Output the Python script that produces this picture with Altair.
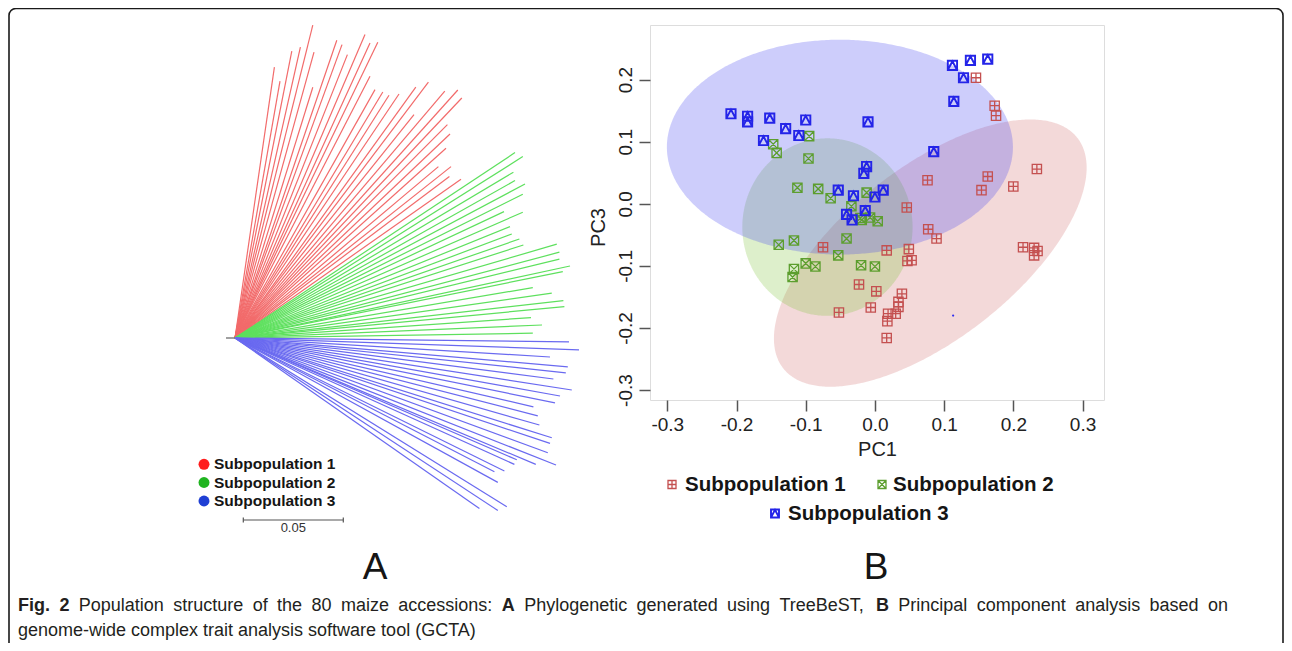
import altair as alt
import numpy as np
import pandas as pd

# ------------------------------------------------------------------ data
groups = ["Subpopulation 1", "Subpopulation 2", "Subpopulation 3"]

# Panel A: star-shaped tree, leaf tip coordinates (tree distance units, root at 0,0)
tip1_x = [0.0389, 0.0197, 0.0225, 0.0284, 0.0327, 0.0395, 0.0389, 0.0509, 0.0535, 0.0562,
          0.0650, 0.0675, 0.0714, 0.0675, 0.0700, 0.0739, 0.0770, 0.0820, 0.0904, 0.0967,
          0.0895, 0.1049, 0.1114, 0.1134, 0.1062, 0.1075, 0.1055, 0.1017, 0.1080, 0.1072, 0.1130]
tip1_y = [0.1564, 0.1354, 0.1284, 0.1434, 0.1454, 0.1429, 0.1254, 0.1489, 0.1467, 0.1417,
          0.1517, 0.1475, 0.1479, 0.1309, 0.1242, 0.1230, 0.1214, 0.1220, 0.1254, 0.1279,
          0.1117, 0.1234, 0.1240, 0.1200, 0.1067, 0.1020, 0.0949, 0.0857, 0.0857, 0.0807, 0.0794]
tip2_x = [0.1400, 0.1439, 0.1392, 0.1400, 0.1450, 0.1439, 0.1345, 0.1439, 0.1375, 0.1384,
          0.1422, 0.1442, 0.1609, 0.1622, 0.1622, 0.1675, 0.1639, 0.1489, 0.1584, 0.1642,
          0.1647, 0.1480, 0.1535, 0.1489]
tip2_y = [0.0927, 0.0907, 0.0829, 0.0787, 0.0770, 0.0719, 0.0632, 0.0629, 0.0557, 0.0520,
          0.0495, 0.0465, 0.0469, 0.0429, 0.0394, 0.0360, 0.0332, 0.0252, 0.0224, 0.0187,
          0.0157, 0.0102, 0.0065, 0.0024]
tip3_x = [0.1670, 0.1720, 0.1575, 0.1664, 0.1654, 0.1592, 0.1684, 0.1625, 0.1600, 0.1492,
          0.1514, 0.1522, 0.1584, 0.1575, 0.1564, 0.1605, 0.1504, 0.1409, 0.1397, 0.1347,
          0.1297, 0.1314, 0.1222, 0.1359, 0.1314]
tip3_y = [-0.0019, -0.0059, -0.0095, -0.0144, -0.0174, -0.0205, -0.0260, -0.0290, -0.0324, -0.0344,
          -0.0389, -0.0435, -0.0499, -0.0527, -0.0574, -0.0635, -0.0632, -0.0609, -0.0632, -0.0665,
          -0.0669, -0.0722, -0.0852, -0.0844, -0.0862]
root_edge = 0.0045
scale_bar_length = 0.05
scale_bar_label = "0.05"

# Panel B: PCA (PC1 vs PC3)
pc1_g1 = [0.146, 0.173, 0.175, 0.234, 0.163, 0.200, 0.154, 0.076, 0.046, 0.077, 0.089, -0.075,
          0.017, 0.049, 0.047, 0.053, 0.214, 0.230, 0.235, 0.230, -0.023, 0.002, 0.039, 0.034,
          0.034, -0.006, -0.052, 0.019, 0.030, 0.018, 0.017]
pc3_g1 = [0.203, 0.158, 0.142, 0.056, 0.044, 0.028, 0.022, 0.038, -0.006, -0.041, -0.056, -0.070,
          -0.075, -0.073, -0.092, -0.091, -0.070, -0.071, -0.076, -0.083, -0.130, -0.141, -0.145, -0.158,
          -0.166, -0.167, -0.175, -0.177, -0.177, -0.189, -0.216]
pc1_g2 = [-0.095, -0.147, -0.142, -0.096, -0.112, -0.082, -0.064, -0.012, -0.034, -0.021, -0.019,
          -0.007, 0.004, -0.041, -0.117, -0.139, -0.053, -0.100, -0.086, -0.020, 0.000, -0.117, -0.119]
pc3_g2 = [0.109, 0.096, 0.082, 0.073, 0.026, 0.024, 0.009, 0.018, -0.004, -0.023, -0.026,
          -0.022, -0.028, -0.056, -0.059, -0.066, -0.083, -0.096, -0.101, -0.099, -0.101, -0.105, -0.118]
pc1_g3 = [-0.208, -0.184, -0.184, -0.152, -0.100, -0.129, -0.110, -0.161, -0.010, 0.112, 0.138,
          0.163, 0.128, 0.114, 0.085, -0.012, -0.016, -0.053, -0.031, 0.012, 0.000, -0.014, -0.041, -0.033]
pc3_g3 = [0.145, 0.141, 0.132, 0.138, 0.135, 0.121, 0.110, 0.102, 0.132, 0.223, 0.231,
          0.233, 0.203, 0.165, 0.084, 0.060, 0.049, 0.022, 0.013, 0.022, 0.011, -0.011, -0.017, -0.026]
stray_pc1 = [0.113]
stray_pc3 = [-0.180]

# confidence ellipses: centre, major-axis vector, minor-axis vector (data units)
ell_cx = [0.080, -0.0686, -0.0506]
ell_cy = [-0.0794, -0.0375, 0.0913]
ell_ux = [0.2125, 0.123, 0.250]
ell_uy = [0.1856, 0.0, 0.0]
ell_vx = [-0.0767, 0.0, 0.0]
ell_vy = [0.109, 0.143, 0.173]

pc1_ticks = [-0.3, -0.2, -0.1, 0.0, 0.1, 0.2, 0.3]
pc3_ticks = [-0.3, -0.2, -0.1, 0.0, 0.1, 0.2]

caption_parts = ["Fig. 2", "Population structure of the 80 maize accessions:", "A",
                 "Phylogenetic generated using TreeBeST,", "B",
                 "Principal component analysis based on",
                 "genome-wide complex trait analysis software tool (GCTA)"]
panel_letters = ["A", "B"]

# ------------------------------------------------------------------ styles / layout
W, H = 454, 375             # plot area of panel B
OX, OY = 650, 25            # page position of panel B plot area
def vx(px): return px - OX
def vy(py): return py - OY

tree_colors = ["#f26b6b", "#5ee05e", "#6a6af0"]
legA_colors = ["#ff1c1c", "#20b420", "#1f3fd4"]
pt_colors = ["#c45050", "#5c9e2e", "#2424e8"]
pt_stroke = [1.3, 1.3, 1.9]
ell_fill = ["#c85050", "#7cc236", "#4646f0"]
ell_op = [0.22, 0.26, 0.27]
shapes = ["M-1,-1L1,-1L1,1L-1,1Z M0,-1L0,1 M-1,0L1,0",
          "M-1,-1L1,-1L1,1L-1,1Z M-1,-1L1,1 M-1,1L1,-1",
          "M-1,-1L1,-1L1,1L-1,1Z M-1,1L0,-0.9L1,1"]
FONT = "Liberation Sans, Arial, sans-serif"
CAP_SIZE = 18

def sx():
    return alt.Scale(domain=[-0.325, 0.331], nice=False, zero=False)
def sy():
    return alt.Scale(domain=[-0.316, 0.288], nice=False, zero=False)
def tsx():
    return alt.Scale(domain=[0, 0.2], range=[vx(235), vx(635)], nice=False, zero=False)
def tsy():
    return alt.Scale(domain=[-0.1, 0.2], range=[vy(538), vy(-62)], nice=False, zero=False)

one = pd.DataFrame({"k": [0]})
layers = []

# outer rounded frame
layers.append(alt.Chart(one).mark_rect(fillOpacity=0, stroke="#1a1a1a", strokeWidth=1.6,
                                       cornerRadius=7).encode(
    x=alt.value(vx(9)), x2=alt.value(vx(1283)), y=alt.value(vy(8.5)), y2=alt.value(vy(700))))

# ---- Panel A tree
tips = [(tip1_x, tip1_y), (tip2_x, tip2_y), (tip3_x, tip3_y)]
tree_df = pd.concat([pd.DataFrame({"group": g, "tx": tx, "ty": ty, "rx": 0.0, "ry": 0.0})
                     for g, (tx, ty) in zip(groups, tips)], ignore_index=True)
layers.append(alt.Chart(tree_df).mark_rule(strokeWidth=1.2).encode(
    x=alt.X("rx:Q", scale=tsx(), axis=None), y=alt.Y("ry:Q", scale=tsy(), axis=None),
    x2="tx:Q", y2="ty:Q",
    color=alt.Color("group:N", scale=alt.Scale(domain=groups, range=tree_colors), legend=None)))
stub_df = pd.DataFrame({"a": [-root_edge], "b": [0.0], "y": [0.0]})
layers.append(alt.Chart(stub_df).mark_rule(color="#777777", strokeWidth=1.4).encode(
    x=alt.X("a:Q", scale=tsx(), axis=None), x2="b:Q", y=alt.Y("y:Q", scale=tsy(), axis=None)))

# scale bar
bx0, by = 0.00415, -0.091
bar_df = pd.DataFrame({"x0": [bx0], "x1": [bx0 + scale_bar_length], "y": [by],
                       "xm": [bx0 + scale_bar_length / 2], "t": [scale_bar_label]})
layers.append(alt.Chart(bar_df).mark_rule(color="#555555", strokeWidth=1.2).encode(
    x=alt.X("x0:Q", scale=tsx(), axis=None), x2="x1:Q", y=alt.Y("y:Q", scale=tsy(), axis=None)))
cap_df = pd.DataFrame({"x": [bx0, bx0 + scale_bar_length], "y0": [by - 0.0012] * 2, "y1": [by + 0.0012] * 2})
layers.append(alt.Chart(cap_df).mark_rule(color="#555555", strokeWidth=1.2).encode(
    x=alt.X("x:Q", scale=tsx(), axis=None), y=alt.Y("y0:Q", scale=tsy(), axis=None), y2="y1:Q"))
layers.append(alt.Chart(bar_df).mark_text(font=FONT, fontSize=13, color="#333333", baseline="middle").encode(
    x=alt.X("xm:Q", scale=tsx(), axis=None), y=alt.value(vy(527.5)), text="t:N"))

# legend A
for i, g in enumerate(groups):
    d = pd.DataFrame({"t": [g]})
    yy = vy([464.3, 482.5, 501.0][i])
    layers.append(alt.Chart(d).mark_circle(size=120, opacity=1, color=legA_colors[i]).encode(
        x=alt.value(vx(204)), y=alt.value(yy)))
    layers.append(alt.Chart(d).mark_text(font=FONT, fontSize=15.5, fontWeight="bold", color="#151515",
                                         align="left", baseline="middle").encode(
        x=alt.value(vx(214)), y=alt.value(yy), text="t:N"))

# ---- Panel B ellipses (filled between lower and upper half of each ellipse)
s = np.linspace(0, np.pi, 241)
for i, g in enumerate(groups):
    R = np.hypot(ell_ux[i], ell_vx[i])
    phi = np.arctan2(ell_vx[i], ell_ux[i])
    X = ell_cx[i] + R * np.cos(s)
    t1, t2 = phi + s, phi - s
    Y1 = ell_cy[i] + ell_uy[i] * np.cos(t1) + ell_vy[i] * np.sin(t1)
    Y2 = ell_cy[i] + ell_uy[i] * np.cos(t2) + ell_vy[i] * np.sin(t2)
    ed = pd.DataFrame({"X": X, "Y1": Y1, "Y2": Y2})
    layers.append(alt.Chart(ed).mark_area(color=ell_fill[i], opacity=ell_op[i]).encode(
        x=alt.X("X:Q", scale=sx(), axis=None), y=alt.Y("Y1:Q", scale=sy(), axis=None), y2="Y2:Q"))

# points
pts = [(pc1_g1, pc3_g1), (pc1_g2, pc3_g2), (pc1_g3, pc3_g3)]
lab_expr = "(datum.value < 0 ? '-' : '') + format(abs(datum.value), '.1f')"
for i, g in enumerate(groups):
    pdf = pd.DataFrame({"PC1": pts[i][0], "PC3": pts[i][1], "group": g})
    if i == 2:
        xax = alt.Axis(values=pc1_ticks, labelExpr=lab_expr, orient="bottom", domain=False, grid=False,
                       tickSize=11, tickWidth=1.5, tickColor="#555555", labelFont=FONT, labelFontSize=19,
                       labelColor="#222222", labelPadding=4, labelFlush=False,
                       title="PC1", titleFont=FONT, titleFontSize=20, titleFontWeight="normal",
                       titleColor="#222222", titleY=49, titleBaseline="middle")
        yax = alt.Axis(values=pc3_ticks, labelExpr=lab_expr, orient="left", domain=False, grid=False,
                       tickSize=11, tickWidth=1.5, tickColor="#555555", labelFont=FONT, labelFontSize=19,
                       labelColor="#222222", labelPadding=4, labelAngle=270, labelAlign="center",
                       labelBaseline="bottom", labelFlush=False,
                       title="PC3", titleFont=FONT, titleFontSize=20, titleFontWeight="normal",
                       titleColor="#222222", titleAngle=270, titleX=-52, titleY=202,
                       titleAlign="center", titleBaseline="middle")
    else:
        xax, yax = None, None
    layers.append(alt.Chart(pdf).mark_point(shape=shapes[i], filled=False, size=86, strokeWidth=pt_stroke[i],
                                            opacity=1, color=pt_colors[i]).encode(
        x=alt.X("PC1:Q", scale=sx(), axis=xax), y=alt.Y("PC3:Q", scale=sy(), axis=yax)))
stray = pd.DataFrame({"PC1": stray_pc1, "PC3": stray_pc3})
layers.append(alt.Chart(stray).mark_circle(size=5, opacity=1, color="#3030f0").encode(
    x=alt.X("PC1:Q", scale=sx(), axis=None), y=alt.Y("PC3:Q", scale=sy(), axis=None)))

# legend B
legB = [(672, 484.5, 685), (882, 484.5, 893), (775, 513.5, 788)]
for i, g in enumerate(groups):
    d = pd.DataFrame({"t": [g]})
    mx, my, tx = legB[i]
    layers.append(alt.Chart(d).mark_point(shape=shapes[i], filled=False, size=64, strokeWidth=pt_stroke[i],
                                          opacity=1, color=pt_colors[i]).encode(
        x=alt.value(vx(mx)), y=alt.value(vy(my))))
    layers.append(alt.Chart(d).mark_text(font=FONT, fontSize=20.5, fontWeight="bold", color="#151515",
                                         align="left", baseline="middle").encode(
        x=alt.value(vx(tx)), y=alt.value(vy(my)), text="t:N"))

# panel letters
for lt, px in zip(panel_letters, [375, 876]):
    d = pd.DataFrame({"t": [lt]})
    layers.append(alt.Chart(d).mark_text(font=FONT, fontSize=37, color="#151515", baseline="middle").encode(
        x=alt.value(vx(px)), y=alt.value(vy(568)), text="t:N"))

# caption: justified first line, natural second line (word layout from Arial metrics)
REG = {" ": 278, ".": 278, ",": 278, ":": 278, "-": 333, "(": 333, ")": 333,
       "a": 556, "b": 556, "c": 500, "d": 556, "e": 556, "f": 278, "g": 556, "h": 556, "i": 222,
       "j": 222, "k": 500, "l": 222, "m": 833, "n": 556, "o": 556, "p": 556, "q": 556, "r": 333,
       "s": 500, "t": 278, "u": 556, "v": 500, "w": 722, "x": 500, "y": 500, "z": 500,
       "A": 667, "B": 667, "C": 722, "G": 778, "P": 667, "S": 667, "T": 611, "F": 611}
BOLD = {"F": 611, "i": 278, "g": 611, ".": 278, "2": 556, "A": 722, "B": 722}
def text_w(txt, bold):
    tab = BOLD if bold else REG
    return sum(tab.get(c, 556) for c in txt) / 1000 * CAP_SIZE

cap_bold = [True, False, True, False, True, False, False]
line1 = [(w, cap_bold[j]) for j, part in enumerate(caption_parts[:6]) for w in part.split(" ")]
line2 = [(w, False) for w in caption_parts[6].split(" ")]
L, Rt = 18, 1228
widths1 = [text_w(w, b) for w, b in line1]
gap1 = (Rt - L - sum(widths1)) / (len(line1) - 1)
rows = []
x = L
for (w, b), wd in zip(line1, widths1):
    rows.append({"t": w, "px": vx(x), "bold": b, "line": 1})
    x += wd + gap1
x = L
for w, b in line2:
    rows.append({"t": w, "px": vx(x), "bold": b, "line": 2})
    x += text_w(w, b) + text_w(" ", False)
cap_words = pd.DataFrame(rows)
for b in [True, False]:
    for ln, py in [(1, 606), (2, 631)]:
        d = cap_words[(cap_words.bold == b) & (cap_words.line == ln)]
        if len(d) == 0:
            continue
        layers.append(alt.Chart(d).mark_text(font=FONT, fontSize=CAP_SIZE,
                                             fontWeight="bold" if b else "normal",
                                             color="#231f20", align="left", baseline="middle").encode(
            x=alt.X("px:Q", scale=None, axis=None), y=alt.value(vy(py)), text="t:N"))

chart = alt.layer(*layers).resolve_scale(x="independent", y="independent").properties(
    width=W, height=H,
    padding={"left": OX - 8, "top": OY - 8, "right": 1276 - (OX - 8) - W, "bottom": 635 - (OY - 8) - H},
    autosize=alt.AutoSizeParams(type="none"),
).configure_view(stroke="#8a8a8a", strokeWidth=2).configure(background="white")

chart.save("out.html", embed_options={"renderer": "svg", "actions": False})
